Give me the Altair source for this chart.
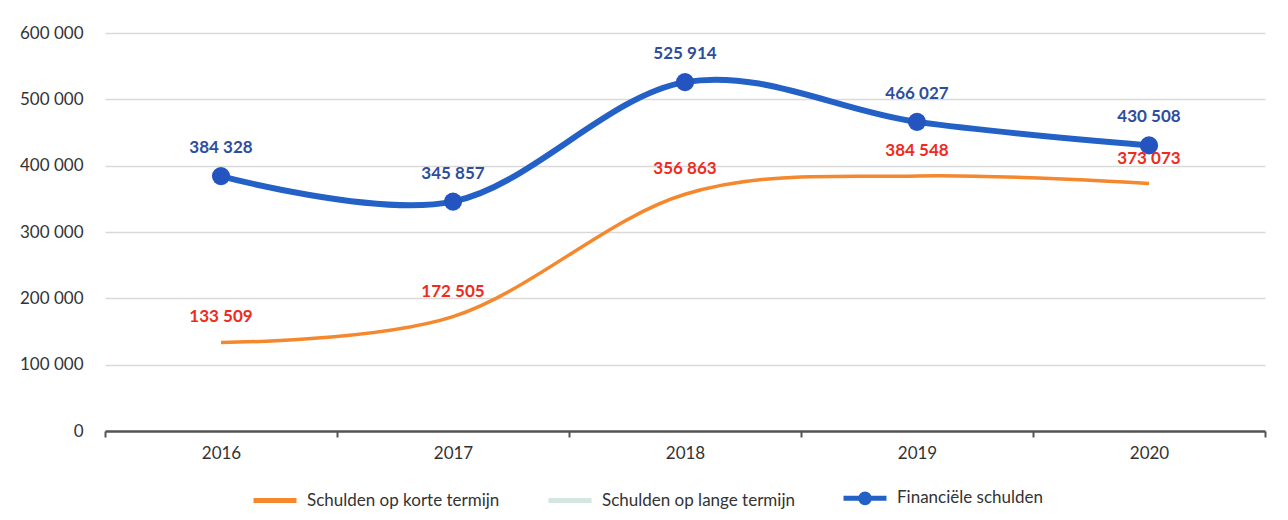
import altair as alt
import pandas as pd

years = ["2016", "2017", "2018", "2019", "2020"]
korte = [133509, 172505, 356863, 384548, 373073]
financiele = [384328, 345857, 525914, 466027, 430508]
series_names = ["Schulden op korte termijn", "Schulden op lange termijn", "Financiële schulden"]
series_colors = ["#f5872c", "#d3e6df", "#2461c6"]
y_ticks = [0, 100000, 200000, 300000, 400000, 500000, 600000]

rows = []
for y, v in zip(years, korte):
    rows.append({"year": y, "value": v, "series": series_names[0], "col": series_colors[0]})
for y, v in zip(years, financiele):
    rows.append({"year": y, "value": v, "series": series_names[2], "col": series_colors[2]})
df = pd.DataFrame(rows)

FONT = "Lato"

x_enc = alt.X(
    "year:O",
    bandPosition=0.5,
    scale=alt.Scale(type="band", paddingInner=0, paddingOuter=0, domain=years),
    axis=alt.Axis(
        title=None, labelAngle=0, tickBand="extent", grid=False,
        domainColor="#555555", domainWidth=2.5, tickColor="#555555", tickWidth=2, tickSize=6,
        labelFont=FONT, labelFontSize=17, labelColor="#333333", labelPadding=8,
    ),
)
y_scale = alt.Scale(domain=[0, 600000], nice=False)
y_enc = alt.Y(
    "value:Q",
    scale=y_scale,
    axis=alt.Axis(
        title=None, values=y_ticks, domain=False, ticks=False,
        labelExpr="replace(format(datum.value, ',d'), ',', ' ')",
        labelFont=FONT, labelFontSize=17, labelColor="#333333", labelPadding=22,
        gridColor="#d9d9d9", gridWidth=1.5,
    ),
)

base = alt.Chart(df)

lines = base.mark_line(interpolate="cardinal").encode(
    x=x_enc, y=y_enc,
    color=alt.Color("col:N", scale=None),
    detail="series:N",
    strokeWidth=alt.condition(alt.datum.series == series_names[2], alt.value(6), alt.value(3.5)),
)

points = base.transform_filter(alt.datum.series == series_names[2]).mark_point(
    filled=True, size=330, opacity=1, color="#2354bf"
).encode(x=x_enc, y=y_enc)

label_blue = base.transform_filter(alt.datum.series == series_names[2]).transform_calculate(
    lbl="replace(format(datum.value, ',d'), ',', ' ')"
).mark_text(font=FONT, fontSize=17, fontWeight="bold", color="#2d4d9e", dy=-28, baseline="middle").encode(
    x=x_enc, y=y_enc, text="lbl:N"
)

label_red = base.transform_filter(alt.datum.series == series_names[0]).transform_calculate(
    lbl="replace(format(datum.value, ',d'), ',', ' ')"
).mark_text(font=FONT, fontSize=17, fontWeight="bold", color="#f02a1c", dy=-25, baseline="middle").encode(
    x=x_enc, y=y_enc, text="lbl:N"
)

line_path = "M-1,0L1,0"
dot_path = "M-1,0L1,0M0.2,0A0.2,0.2 0 1,1 -0.2,0A0.2,0.2 0 1,1 0.2,0"

legend_layer = base.transform_filter("false").mark_point(opacity=1, filled=False).encode(
    x=x_enc, y=y_enc,
    color=alt.Color("series:N", scale=alt.Scale(domain=series_names, range=series_colors), title=None),
    shape=alt.Shape("series:N", scale=alt.Scale(domain=series_names, range=[line_path, line_path, dot_path]), title=None),
)

chart = alt.layer(lines, points, label_blue, label_red, legend_layer).properties(
    width=1160, height=398,
    autosize=alt.AutoSizeParams(type="none"),
    padding={"left": 97, "top": 25, "right": 10, "bottom": 78},
    background="#ffffff",
).configure_view(stroke=None).configure_legend(
    orient="none", legendX=146, legendY=441, direction="horizontal",
    symbolSize=1849, symbolStrokeWidth=5, labelOffset=8, columnPadding=38,
    labelFont=FONT, labelFontSize=17, labelColor="#333333", labelLimit=500, padding=0,
)

chart.save("out.html", embed_options={"renderer": "svg", "actions": False})
